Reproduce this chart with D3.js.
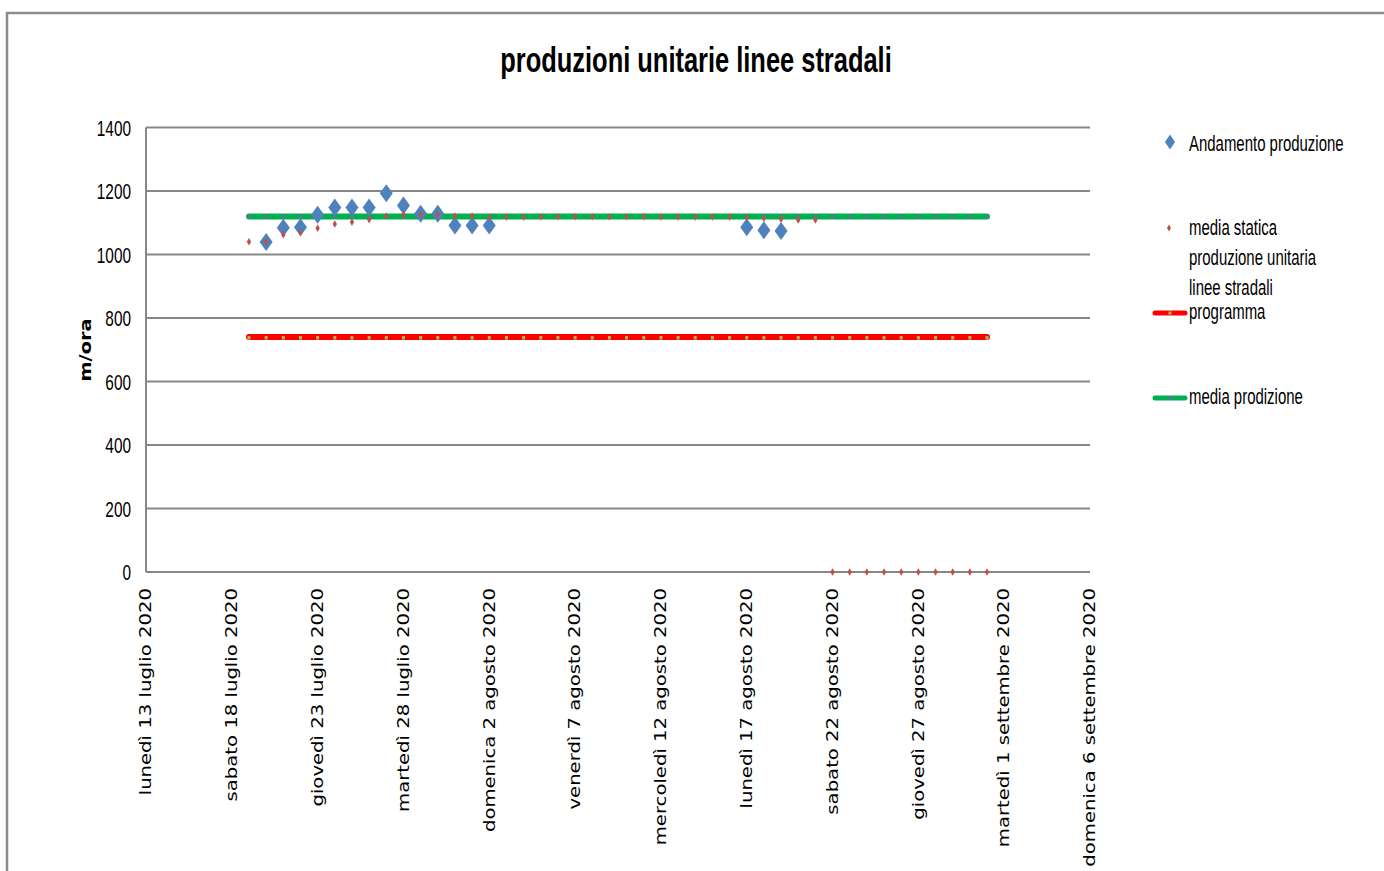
<!DOCTYPE html>
<html lang="it">
<head>
<meta charset="UTF-8">
<title>produzioni unitarie linee stradali</title>
<script src="https://cdn.jsdelivr.net/npm/d3@7"></script>
<style>
  body { margin: 0; background: #fff; }
  svg { display: block; }
  .narrow { font-family: "Liberation Sans", Arial, sans-serif; fill: #000; }
  .xlab { font-family: "DejaVu Sans", Verdana, sans-serif; font-size: 15px; fill: #000; }
</style>
</head>
<body>
<svg width="1384" height="871"></svg>
<script>

// --- dati ---
var tickDates = ["2020-07-13", "2020-07-18", "2020-07-23", "2020-07-28", "2020-08-02", "2020-08-07",
                 "2020-08-12", "2020-08-17", "2020-08-22", "2020-08-27", "2020-09-01", "2020-09-06"];
var tickLabels = ["lunedì 13 luglio 2020", "sabato 18 luglio 2020", "giovedì 23 luglio 2020",
                  "martedì 28 luglio 2020", "domenica 2 agosto 2020", "venerdì 7 agosto 2020",
                  "mercoledì 12 agosto 2020", "lunedì 17 agosto 2020", "sabato 22 agosto 2020",
                  "giovedì 27 agosto 2020", "martedì 1 settembre 2020", "domenica 6 settembre 2020"];
var yTicks = [0, 200, 400, 600, 800, 1000, 1200, 1400];

// Andamento produzione (rombi blu)
var andamentoDates = ["2020-07-20", "2020-07-21", "2020-07-22", "2020-07-23", "2020-07-24", "2020-07-25",
                      "2020-07-26", "2020-07-27", "2020-07-28", "2020-07-29", "2020-07-30", "2020-07-31",
                      "2020-08-01", "2020-08-02", "2020-08-17", "2020-08-18", "2020-08-19"];
var andamentoValues = [1039, 1084, 1086, 1125, 1148, 1148, 1148, 1193, 1154, 1128, 1128, 1091,
                       1091, 1091, 1086, 1076, 1074];

// giorni dal 19 luglio al 31 agosto
var giorni = d3.utcDay.range(new Date("2020-07-19"), new Date("2020-09-01"));

// media statica produzione unitaria linee stradali
var mediaStatica = [1040, 1040, 1062, 1069, 1083, 1096, 1102, 1110, 1121, 1125, 1125, 1125, 1121,
                    1121, 1118, 1118, 1118, 1119, 1119, 1119, 1119, 1119, 1119, 1119, 1118, 1118,
                    1118, 1118, 1118, 1118, 1114, 1111, 1109, 1109,
                    0, 0, 0, 0, 0, 0, 0, 0, 0, 0];

// programma
var programma = [740, 740, 740, 740, 740, 740, 740, 740, 740, 740, 740, 740, 740, 740, 740,
                 740, 740, 740, 740, 740, 740, 740, 740, 740, 740, 740, 740, 740, 740, 740,
                 740, 740, 740, 740, 740, 740, 740, 740, 740, 740, 740, 740, 740, 740];

// media prodizione
var mediaProduzione = [1120, 1120, 1120, 1120, 1120, 1120, 1120, 1120, 1120, 1120, 1120, 1120, 1120,
                       1120, 1120, 1120, 1120, 1120, 1120, 1120, 1120, 1120, 1120, 1120, 1120, 1120,
                       1120, 1120, 1120, 1120, 1120, 1120, 1120, 1120, 1120, 1120, 1120, 1120, 1120,
                       1120, 1120, 1120, 1120, 1120];

var legendItems = ["Andamento produzione", "media statica", "produzione unitaria", "linee stradali",
                   "programma", "media prodizione"];

// --- disegno ---
var svg = d3.select("svg");

var x = d3.scaleUtc()
    .domain([new Date(tickDates[0]), new Date(tickDates[tickDates.length - 1])])
    .range([146, 1090]);

var y = d3.scaleLinear()
    .domain([0, 1400])
    .range([572, 127.5]);

// bordo del grafico
svg.append("path")
    .attr("d", "M7,871 L7,13 L1384,13")
    .attr("fill", "none")
    .attr("stroke", "#8c8c8c")
    .attr("stroke-width", 2.5);

// titolo (font stretto, stile Calibri)
svg.append("text")
    .attr("class", "narrow")
    .attr("transform", "translate(696,72) scale(0.727,1)")
    .attr("text-anchor", "middle")
    .style("font-size", "35px")
    .style("font-weight", "bold")
    .text("produzioni unitarie linee stradali");

// griglia orizzontale
svg.append("g")
    .selectAll("line")
    .data(yTicks)
    .enter().append("line")
    .attr("x1", x.range()[0])
    .attr("x2", x.range()[1])
    .attr("y1", function (d) { return y(d); })
    .attr("y2", function (d) { return y(d); })
    .attr("stroke", "#878787")
    .attr("stroke-width", 2);

// asse verticale
svg.append("line")
    .attr("x1", 146).attr("x2", 146)
    .attr("y1", y(1400)).attr("y2", y(0))
    .attr("stroke", "#878787")
    .attr("stroke-width", 2);

// etichette asse y
svg.append("g")
    .selectAll("text")
    .data(yTicks)
    .enter().append("text")
    .attr("class", "narrow")
    .attr("transform", function (d) { return "translate(131," + (y(d) + 8) + ") scale(0.7,1)"; })
    .attr("text-anchor", "end")
    .style("font-size", "22px")
    .text(function (d) { return d; });

// titolo asse y
svg.append("text")
    .attr("class", "xlab")
    .attr("transform", "translate(91,350) rotate(-90) scale(1.29,1)")
    .attr("text-anchor", "middle")
    .style("font-weight", "bold")
    .text("m/ora");

// etichette asse x
svg.append("g")
    .selectAll("text")
    .data(tickDates)
    .enter().append("text")
    .attr("class", "xlab")
    .attr("transform", function (d) {
        return "translate(" + x(new Date(d)) + ",588) rotate(-90) scale(1.31,1)";
    })
    .attr("dy", "0.35em")
    .attr("text-anchor", "end")
    .text(function (d, i) { return tickLabels[i]; });

// linea programma
svg.append("path")
    .datum(programma)
    .attr("fill", "none")
    .attr("stroke", "#ff0000")
    .attr("stroke-width", 6)
    .attr("stroke-linecap", "round")
    .attr("d", d3.line()
        .x(function (d, i) { return x(giorni[i]); })
        .y(function (d) { return y(d); }));

svg.append("g")
    .selectAll("rect")
    .data(programma)
    .enter().append("rect")
    .attr("x", function (d, i) { return x(giorni[i]) - 1.5; })
    .attr("y", function (d) { return y(d) - 1; })
    .attr("width", 3)
    .attr("height", 3.5)
    .attr("fill", "#9bbb59");

// linea media prodizione
svg.append("path")
    .datum(mediaProduzione)
    .attr("fill", "none")
    .attr("stroke", "#00b050")
    .attr("stroke-width", 6)
    .attr("stroke-linecap", "round")
    .attr("d", d3.line()
        .x(function (d, i) { return x(giorni[i]); })
        .y(function (d) { return y(d); }));

svg.append("g")
    .selectAll("rect")
    .data(mediaProduzione)
    .enter().append("rect")
    .attr("x", function (d, i) { return x(giorni[i]) - 1.5; })
    .attr("y", function (d) { return y(d) - 1.5; })
    .attr("width", 3)
    .attr("height", 3)
    .attr("fill", "#8064a2");

// rombo allungato
function diamond(w, h) {
    return "M0," + (-h) + "L" + w + ",0L0," + h + "L" + (-w) + ",0Z";
}

// andamento produzione
svg.append("g")
    .selectAll("path")
    .data(andamentoValues)
    .enter().append("path")
    .attr("transform", function (d, i) {
        return "translate(" + x(new Date(andamentoDates[i])) + "," + y(d) + ")";
    })
    .attr("d", diamond(6.5, 9))
    .attr("fill", "#4f81bd");

// media statica
svg.append("g")
    .selectAll("path")
    .data(mediaStatica)
    .enter().append("path")
    .attr("transform", function (d, i) {
        return "translate(" + x(giorni[i]) + "," + y(d) + ")";
    })
    .attr("d", diamond(2.2, 3.8))
    .attr("fill", "#c0504d");

// legenda
var legend = svg.append("g");

legend.append("path")
    .attr("transform", "translate(1170,142)")
    .attr("d", diamond(5, 7.5))
    .attr("fill", "#4f81bd");

legend.append("path")
    .attr("transform", "translate(1169,228)")
    .attr("d", diamond(2, 3.5))
    .attr("fill", "#c0504d");

legend.append("line")
    .attr("x1", 1155).attr("x2", 1185)
    .attr("y1", 313).attr("y2", 313)
    .attr("stroke", "#ff0000")
    .attr("stroke-width", 5)
    .attr("stroke-linecap", "round");
legend.append("rect")
    .attr("x", 1168.5).attr("y", 311.5).attr("width", 3).attr("height", 3)
    .attr("fill", "#9bbb59");

legend.append("line")
    .attr("x1", 1155).attr("x2", 1185)
    .attr("y1", 398).attr("y2", 398)
    .attr("stroke", "#00b050")
    .attr("stroke-width", 5)
    .attr("stroke-linecap", "round");
legend.append("rect")
    .attr("x", 1168.5).attr("y", 396.5).attr("width", 3).attr("height", 3)
    .attr("fill", "#8064a2");

var legendY = [151, 235, 265, 295, 319, 404];
legend.selectAll("text")
    .data(legendItems)
    .enter().append("text")
    .attr("class", "narrow")
    .attr("transform", function (d, i) { return "translate(1189," + legendY[i] + ") scale(0.68,1)"; })
    .style("font-size", "22px")
    .text(function (d) { return d; });

</script>
</body>
</html>
